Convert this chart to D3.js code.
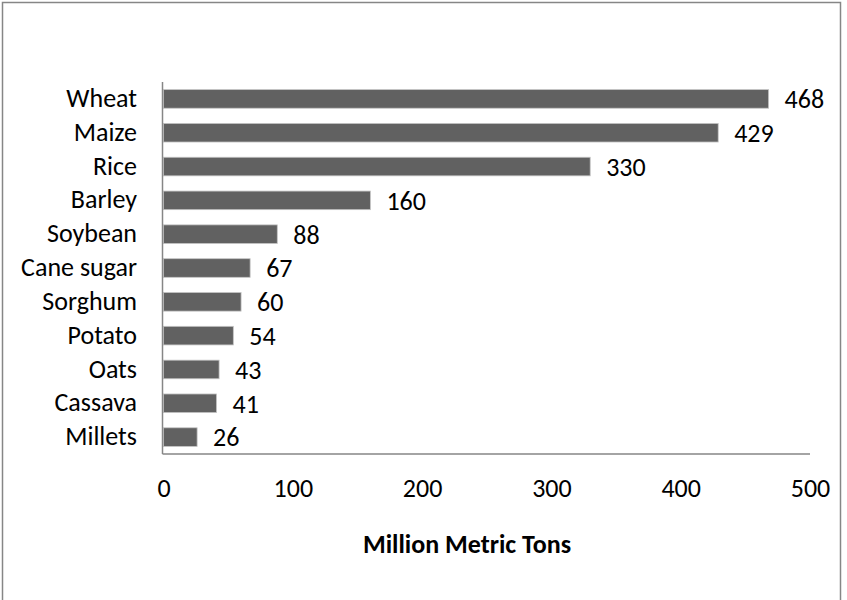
<!DOCTYPE html>
<html>
<head>
<meta charset="utf-8">
<script src="https://cdn.jsdelivr.net/npm/d3@7"></script>
<style>
  html, body { margin: 0; padding: 0; background: #fff; }
  svg { display: block; }
  text { font-family: Carlito, Calibri, "Open Sans", sans-serif; fill: #000; }
</style>
</head>
<body>
<svg id="chart" width="847" height="600"></svg>
<script>
// World crop production, million metric tons
const crops = ["Wheat", "Maize", "Rice", "Barley", "Soybean", "Cane sugar",
               "Sorghum", "Potato", "Oats", "Cassava", "Millets"];
const production = [468, 429, 330, 160, 88, 67, 60, 54, 43, 41, 26];
const xTicks = [0, 100, 200, 300, 400, 500];
const axisTitle = "Million Metric Tons";

const FONT = "Carlito, Calibri, 'Open Sans', sans-serif";
const FS = 26;

const svg = d3.select("#chart");
const plot = { left: 163.5, right: 810, top: 82, bottom: 454 };

// outer frame
svg.append("rect")
  .attr("x", 2.5).attr("y", 2.5)
  .attr("width", 838).attr("height", 610)
  .attr("fill", "#fff").attr("stroke", "#868686").attr("stroke-width", 1.5);

const x = d3.scaleLinear().domain([0, 500]).range([plot.left, plot.right]);
const y = d3.scaleBand().domain(crops).range([plot.top, plot.bottom])
  .paddingInner(0.45).paddingOuter(0.225);

// bars
const data = crops.map((c, i) => ({ crop: c, value: production[i] }));
svg.append("g").selectAll("rect").data(data).join("rect")
  .attr("x", x(0))
  .attr("y", d => y(d.crop))
  .attr("width", d => x(d.value) - x(0))
  .attr("height", y.bandwidth())
  .attr("fill", "#616161")
  .attr("stroke", "#c4c4c4").attr("stroke-width", 0.8);

// value labels
svg.append("g").selectAll("text").data(data).join("text")
  .attr("x", d => x(d.value) + 16)
  .attr("y", d => y(d.crop) + y.bandwidth() / 2 + 1)
  .attr("dy", "0.32em")
  .attr("font-size", FS)
  .text(d => d.value);

// category axis
const yAxis = svg.append("g")
  .attr("transform", `translate(${plot.left - 1},0)`)
  .call(d3.axisLeft(y).tickSize(0).tickPadding(25.5));
yAxis.select(".domain").attr("stroke", "#868686").attr("stroke-width", 1.5)
  .attr("d", `M0,${plot.top}V${plot.bottom}`);
yAxis.selectAll("text").attr("font-size", FS).attr("fill", "#000")
  .attr("dy", "0.31em")
  .style("font-family", FONT);

// value axis
const xAxis = svg.append("g")
  .attr("transform", `translate(0,${plot.bottom})`)
  .call(d3.axisBottom(x).tickValues(xTicks).tickSize(0).tickPadding(24.5));
xAxis.select(".domain").attr("stroke", "#868686").attr("stroke-width", 1.5)
  .attr("d", `M${plot.left - 1},0H${plot.right}`);
xAxis.selectAll("text").attr("font-size", FS).attr("fill", "#000")
  .style("font-family", FONT);

// axis title
svg.append("text")
  .attr("x", 467)
  .attr("y", 553)
  .attr("text-anchor", "middle")
  .attr("font-size", FS)
  .attr("font-weight", "bold")
  .text(axisTitle);
</script>
</body>
</html>
